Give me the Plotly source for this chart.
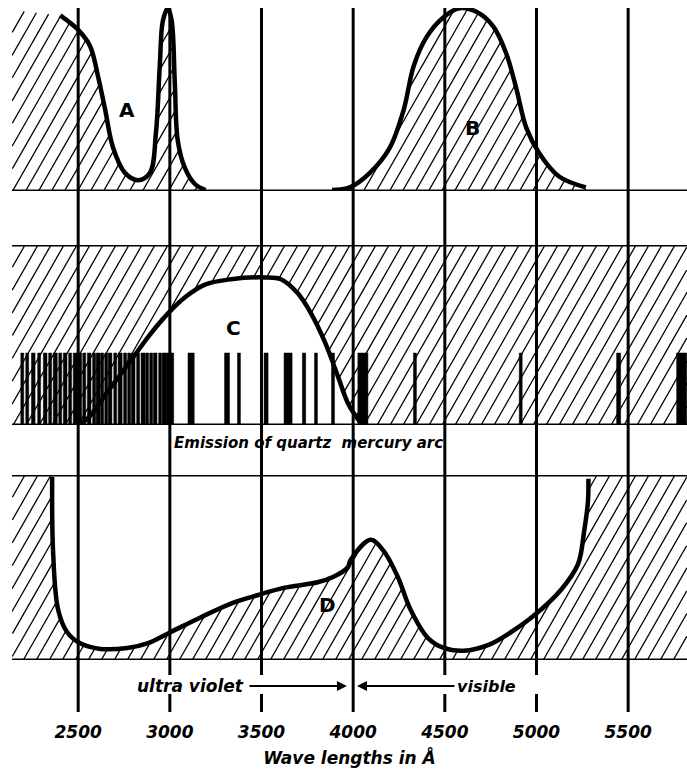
import numpy as np
import plotly.graph_objects as go

# ---------------- data (wavelength in Angstrom, relative height in % of panel) ----
X_MIN, X_MAX = 2139, 5821

# Curve A (absorption, top panel)
a_wl = [2402, 2500, 2565, 2609, 2647, 2690, 2755, 2826, 2891, 2924, 2945, 2962,
        2989, 3010, 3027, 3043, 3081, 3135, 3195]
a_val = [97, 89, 80, 63, 45, 24, 10, 6, 10, 32, 69, 94, 101, 94, 60, 28, 13, 4, 0.5]

# Curve B (top panel)
b_wl = [3885, 3982, 4091, 4200, 4276, 4330, 4400, 4493, 4580, 4672, 4764, 4835,
        4889, 4944, 5014, 5123, 5269]
b_val = [0.5, 2, 10, 24, 45, 69, 85, 96, 101, 99, 91, 76, 57, 35, 21, 8, 2]

# Curve C (middle panel)
c_wl = [2500, 2555, 2664, 2789, 2882, 2990, 3083, 3192, 3334, 3519, 3606, 3699,
        3770, 3846, 3917, 3972, 4042]
c_val = [0, 4, 19, 36, 49, 62, 71, 78, 81, 82, 81, 73, 62, 46, 27, 12, 1]

# Emission lines of the quartz mercury arc
hg_wl = [2195, 2222, 2255, 2287, 2320, 2347, 2375, 2402, 2429, 2456, 2484, 2511,
         2533, 2560, 2587, 2609, 2631, 2653, 2674, 2702, 2729, 2756, 2778, 2800,
         2827, 2854, 2876, 2898, 2920, 2947, 2969, 3001, 3116, 3312, 3377, 3525,
         3645, 3732, 3797, 3890, 4053, 4337, 4914, 5448, 5792]
hg_width = [16, 16, 20, 16, 20, 16, 22, 16, 20, 16, 22, 16,
            16, 20, 16, 22, 16, 16, 20, 16, 22, 16, 16, 20,
            16, 22, 16, 16, 20, 16, 22, 40, 34, 27, 16, 22,
            44, 18, 16, 16, 55, 16, 16, 22, 55]
hg_height = [40] * len(hg_wl)

# Curve D (bottom panel)
d_wl = [2358, 2363, 2391, 2440, 2511, 2620, 2768, 2877, 3003, 3167, 3347, 3478,
        3620, 3806, 3893, 3970, 3986, 4095, 4166, 4243, 4314, 4407, 4494, 4604,
        4735, 4860, 4986, 5134, 5227, 5259, 5281, 5283]
d_val = [99, 59, 27, 15, 9, 6, 6.5, 9, 15, 23, 31, 35,
         39, 42, 45, 50, 54, 65, 59, 45, 27, 12, 6.5, 5,
         8, 15, 24, 38, 52, 69, 86, 98]

grid_wl = [2500, 3000, 3500, 4000, 4500, 5000, 5500]
tick_text = ["2500", "3000", "3500", "4000", "4500", "5000", "5500"]
broken_wl = [3000, 3500, 4500, 5000]

# ---------------- geometry ----------------
W, H = 687, 769
ML, MR, MT, MB = 12, 0, 8, 109
PH = H - MT - MB          # plot height in px
PW = W - ML - MR          # plot width in px
PX_PER_A = PW / (X_MAX - X_MIN)


def py(px):  # pixel row -> paper y
    return (H - MB - px) / PH


# panel pixel extents (baseline row, top row)
PANEL_A = (191, 10)
PANEL_C = (425, 245)
PANEL_D = (660, 475)


def hatch_lines(lower, upper, k_px_per_unit, ymax, spacing_px=13.0, slope=1.75):
    """Diagonal hatch segments clipped to lower(x) <= y <= upper(x)."""
    xs_out, ys_out = [], []
    yy = np.linspace(0, ymax, 260)
    dx_a = yy * k_px_per_unit / slope / PX_PER_A
    step = spacing_px / PX_PER_A
    x0 = X_MIN - dx_a[-1] - step
    while x0 < X_MAX + step:
        xx = x0 + dx_a
        inside = (xx >= X_MIN) & (xx <= X_MAX) & (yy >= lower(xx) - 1e-9) & (yy <= upper(xx) + 1e-9)
        i = 0
        n = len(yy)
        while i < n:
            if inside[i]:
                j = i
                while j + 1 < n and inside[j + 1]:
                    j += 1
                if j > i:
                    xs_out += [xx[i], xx[j], None]
                    ys_out += [yy[i], yy[j], None]
                i = j + 1
            else:
                i += 1
        x0 += step
    return xs_out, ys_out


FONT = "DejaVu Sans"
CURVE = dict(color="black", width=4.5)
HATCH = dict(color="black", width=1.3)

fig = go.Figure()

# --- top panel (A, B) ---
kA = (PANEL_A[0] - PANEL_A[1]) / 100.0
a_up_x = np.array([X_MIN] + a_wl, float)
a_up_y = np.array([100] + a_val, float)
b_x = np.array(b_wl, float)
b_y = np.array(b_val, float)


def upper_ab(x):
    ua = np.where((x >= a_up_x[0]) & (x <= a_up_x[-1]), np.interp(x, a_up_x, a_up_y), -1)
    ub = np.where((x >= b_x[0]) & (x <= b_x[-1]), np.interp(x, b_x, b_y), -1)
    return np.maximum(ua, ub)


hx, hy = hatch_lines(lambda x: np.zeros_like(x), upper_ab, kA, 100)
fig.add_trace(go.Scatter(x=hx, y=hy, mode="lines", line=HATCH, xaxis="x", yaxis="y",
                         hoverinfo="skip"))
fig.add_trace(go.Scatter(x=a_wl, y=a_val, mode="lines", line=dict(CURVE, shape="spline"),
                         xaxis="x", yaxis="y"))
fig.add_trace(go.Scatter(x=b_wl, y=b_val, mode="lines", line=dict(CURVE, shape="spline"),
                         xaxis="x", yaxis="y"))

# --- middle panel (C) ---
kC = (PANEL_C[0] - PANEL_C[1]) / 100.0
c_x = np.array(c_wl, float)
c_y = np.array(c_val, float)


def lower_c(x):
    return np.where((x >= c_x[0]) & (x <= c_x[-1]), np.interp(x, c_x, c_y), 0)


hx, hy = hatch_lines(lower_c, lambda x: np.full_like(x, 100.0), kC, 100)
fig.add_trace(go.Scatter(x=hx, y=hy, mode="lines", line=HATCH, xaxis="x", yaxis="y2",
                         hoverinfo="skip"))
bar_x, bar_y = [], []
for wl, wd, ht in zip(hg_wl, hg_width, hg_height):
    bar_x += [wl - wd / 2, wl + wd / 2, wl + wd / 2, wl - wd / 2, wl - wd / 2, None]
    bar_y += [0, 0, ht, ht, 0, None]
fig.add_trace(go.Scatter(x=bar_x, y=bar_y, fill="toself", fillcolor="black", mode="lines",
                         line=dict(color="black", width=0.5), xaxis="x", yaxis="y2",
                         hoverinfo="skip"))
fig.add_trace(go.Scatter(x=c_wl, y=c_val, mode="lines", line=dict(CURVE, shape="spline"),
                         xaxis="x", yaxis="y2"))

# --- bottom panel (D) ---
kD = (PANEL_D[0] - PANEL_D[1]) / 100.0
d_x = np.array(d_wl, float)
d_y = np.array(d_val, float)


def upper_d(x):
    return np.where((x >= d_x[0]) & (x <= d_x[-1]), np.interp(x, d_x, d_y), 100.0)


hx, hy = hatch_lines(lambda x: np.zeros_like(x), upper_d, kD, 100)
fig.add_trace(go.Scatter(x=hx, y=hy, mode="lines", line=HATCH, xaxis="x", yaxis="y3",
                         hoverinfo="skip"))
fig.add_trace(go.Scatter(x=d_wl, y=d_val, mode="lines", line=dict(CURVE, shape="spline"),
                         xaxis="x", yaxis="y3"))

# ---------------- shapes: frame lines and grid ----------------
shapes = []
for yref, yv in [("y", 0), ("y2", 0), ("y2", 100), ("y3", 0), ("y3", 100)]:
    shapes.append(dict(type="line", xref="paper", x0=0, x1=1, yref=yref, y0=yv, y1=yv,
                       line=dict(color="black", width=3)))
for wl in grid_wl:
    if wl in broken_wl:
        segs = [(py(712), py(694)), (py(675), 1.0)]
    else:
        segs = [(py(712), 1.0)]
    for y0, y1 in segs:
        shapes.append(dict(type="line", xref="x", x0=wl, x1=wl, yref="paper", y0=y0, y1=y1,
                           line=dict(color="black", width=3)))

# ---------------- annotations ----------------
lab_font = dict(family=FONT, size=20, color="black", weight="bold")
it_font = dict(family=FONT, size=16, color="black", weight="bold", style="italic")
mid = dict(xanchor="center", yanchor="middle", showarrow=False)
ann = [
    dict(mid, text="A", x=2766, y=45, xref="x", yref="y", font=lab_font),
    dict(mid, text="B", x=4649, y=35, xref="x", yref="y", font=lab_font),
    dict(mid, text="C", x=3345, y=54, xref="x", yref="y2", font=lab_font),
    dict(mid, text="D", x=3858, y=30, xref="x", yref="y3", font=lab_font),
    dict(mid, text="Emission of quartz  mercury arc", x=3754, y=py(443), xref="x",
         yref="paper", font=dict(it_font, size=15)),
    dict(mid, text="ultra violet", x=3110, y=py(686), xref="x", yref="paper",
         font=dict(it_font, size=17)),
    dict(mid, text="visible", x=4730, y=py(686), xref="x", yref="paper", font=it_font),
    dict(text="", x=3966, y=py(686), xref="x", yref="paper", ax=3426, ay=0,
         axref="x", ayref="pixel", showarrow=True, arrowhead=2, arrowsize=1,
         arrowwidth=2, arrowcolor="black"),
    dict(text="", x=4021, y=py(686), xref="x", yref="paper", ax=4561, ay=0,
         axref="x", ayref="pixel", showarrow=True, arrowhead=2, arrowsize=1,
         arrowwidth=2, arrowcolor="black"),
]

hidden = dict(visible=False, showgrid=False, zeroline=False, fixedrange=True)
fig.update_layout(
    width=W, height=H, autosize=False,
    margin=dict(l=ML, r=MR, t=MT, b=MB, autoexpand=False),
    paper_bgcolor="white", plot_bgcolor="white",
    showlegend=False, hovermode=False,
    xaxis=dict(range=[X_MIN, X_MAX], domain=[0, 1], anchor="y3", automargin=False,
               showgrid=False, zeroline=False, showline=False, ticks="", fixedrange=True,
               tickvals=grid_wl, ticktext=tick_text, ticklabelstandoff=60,
               tickfont=dict(family=FONT, size=17, color="black", weight="bold",
                             style="italic"),
               title=dict(text="Wave lengths in Å", standoff=11,
                          font=dict(family=FONT, size=17, color="black", weight="bold",
                                    style="italic"))),
    yaxis=dict(hidden, domain=[py(PANEL_A[0]), 1.0],
               range=[0, (PANEL_A[0] - MT) / kA]),
    yaxis2=dict(hidden, domain=[py(PANEL_C[0]), py(PANEL_C[1])], range=[0, 100]),
    yaxis3=dict(hidden, domain=[0, py(PANEL_D[1])], range=[0, 100]),
    shapes=shapes,
    annotations=ann,
)

fig.write_html("out.html", config={"displayModeBar": False, "staticPlot": True},
               post_script="document.body.style.margin='0';"
                           "document.body.style.overflow='hidden';")
